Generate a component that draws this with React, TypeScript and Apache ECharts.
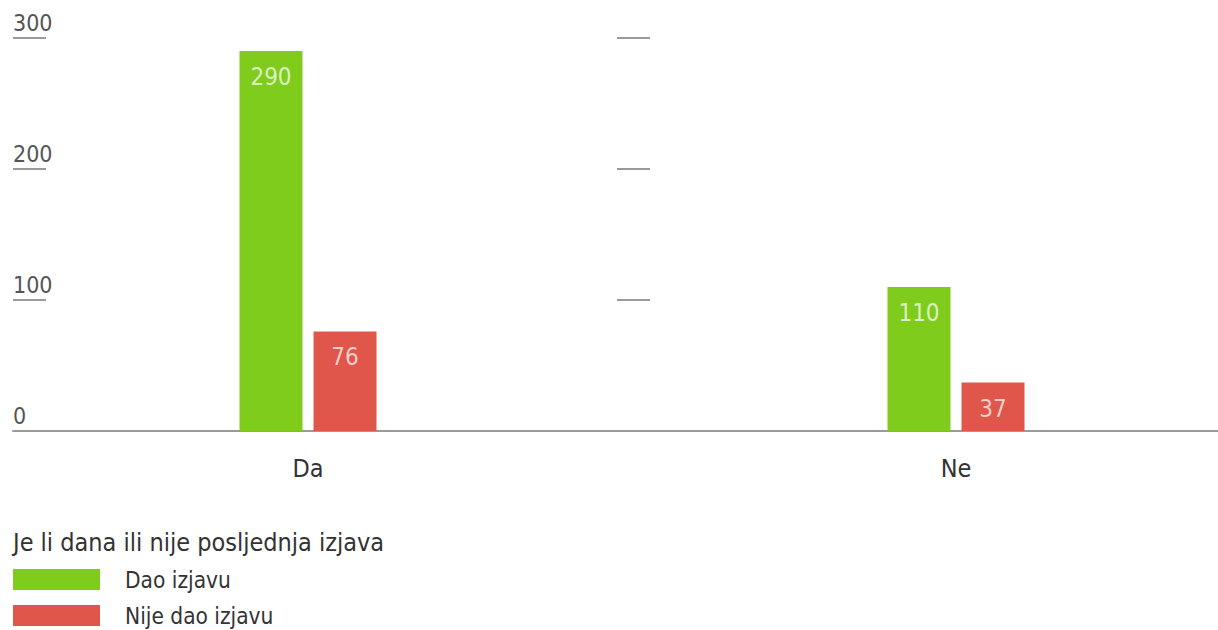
import React, { useEffect, useRef } from "react";
import * as echarts from "echarts";

const categories = ["Da", "Ne"];
const daoIzjavu = [290, 110];
const nijeDaoIzjavu = [76, 37];
const yTicks = [0, 100, 200, 300];
const legendTitle = "Je li dana ili nije posljednja izjava";
const seriesNames = ["Dao izjavu", "Nije dao izjavu"];

const FONT = "'Liberation Sans Narrow', 'DejaVu Sans Condensed', 'Roboto', sans-serif";

export default function App() {
  const ref = useRef<HTMLDivElement>(null);
  useEffect(() => {
    if (!ref.current) return;
    const chart = echarts.init(ref.current, undefined, { renderer: "svg" });
    const yMax = yTicks[yTicks.length - 1];
    const gridTop = 38;
    const gridBottom = 199;
    const labelStyle = {
      show: true,
      position: "insideTop",
      distance: 14,
      fontFamily: FONT,
      fontSize: 24,
      color: "rgba(255,255,255,0.72)",
    };
    chart.setOption({
      animation: false,
      title: {
        text: legendTitle,
        left: 24,
        top: 525,
        textStyle: { fontFamily: FONT, fontSize: 25, fontWeight: "normal", color: "#333" },
      },
      legend: {
        orient: "vertical",
        left: 29,
        top: 568,
        padding: 0,
        itemWidth: 87,
        itemHeight: 21,
        itemGap: 13,
        icon: "rect",
        data: seriesNames,
        textStyle: { fontFamily: FONT, fontSize: 22.5, color: "#333", padding: [0, 0, 0, 20] },
      },
      grid: [
        { left: 29, right: 62, top: gridTop, bottom: gridBottom },
        { left: 0, right: 0, top: gridTop, bottom: gridBottom },
      ],
      xAxis: [
        {
          gridIndex: 0,
          type: "category",
          data: categories,
          axisLine: { show: true, lineStyle: { color: "#9a9a9a", width: 2 } },
          axisTick: { show: false },
          axisLabel: { show: false },
        },
        {
          gridIndex: 1,
          type: "category",
          data: categories,
          axisLine: { show: false },
          axisTick: { show: false },
          axisLabel: { fontFamily: FONT, fontSize: 25, color: "#333", margin: 25 },
        },
      ],
      yAxis: [
        {
          gridIndex: 0,
          type: "value",
          min: 0,
          max: yMax,
          interval: 100,
          axisLine: { show: false },
          axisTick: { show: true, inside: true, length: 33, lineStyle: { color: "#9a9a9a", width: 2 } },
          splitLine: { show: false },
          axisLabel: {
            inside: true,
            margin: 0,
            verticalAlign: "bottom",
            padding: [0, 0, 4, 0],
            fontFamily: FONT,
            fontSize: 23,
            color: "#555",
          },
        },
        {
          gridIndex: 0,
          type: "value",
          position: "left",
          offset: -604,
          min: 0,
          max: yMax,
          interval: 100,
          axisLine: { show: false },
          axisTick: { show: true, inside: true, length: 33, lineStyle: { color: "#9a9a9a", width: 2 } },
          splitLine: { show: false },
          axisLabel: { show: false },
        },
        {
          gridIndex: 1,
          type: "value",
          min: 0,
          max: yMax,
          show: false,
        },
      ],
      series: [
        {
          name: seriesNames[0],
          type: "bar",
          xAxisIndex: 1,
          yAxisIndex: 2,
          data: daoIzjavu,
          barWidth: 63,
          barGap: "17.5%",
          itemStyle: { color: "#80cc1c" },
          label: labelStyle,
        },
        {
          name: seriesNames[1],
          type: "bar",
          xAxisIndex: 1,
          yAxisIndex: 2,
          data: nijeDaoIzjavu,
          barWidth: 63,
          itemStyle: { color: "#e0564a" },
          label: labelStyle,
        },
      ],
    });
    return () => chart.dispose();
  }, []);
  return (
    <div style={{ position: "absolute", left: 0, top: 0, width: 1218, height: 630, overflow: "hidden" }}>
      <div ref={ref} style={{ width: 1296, height: 630, position: "absolute", left: -16, top: 0 }} />
    </div>
  );
}
